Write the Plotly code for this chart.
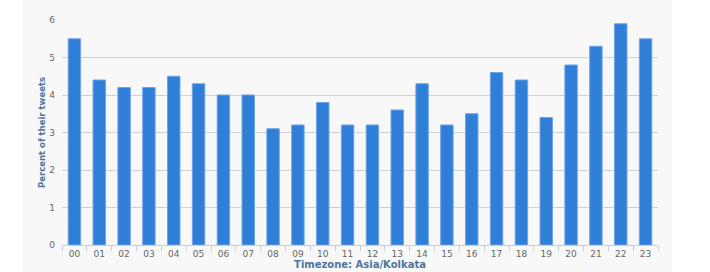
import plotly.graph_objects as go

hours = ["00","01","02","03","04","05","06","07","08","09","10","11",
         "12","13","14","15","16","17","18","19","20","21","22","23"]
percent = [5.5,4.4,4.2,4.2,4.5,4.3,4.0,4.0,3.1,3.2,3.8,3.2,
           3.2,3.6,4.3,3.2,3.5,4.6,4.4,3.4,4.8,5.3,5.9,5.5]

W, H = 710, 272
L, R, T, B = 62, 52, 20, 27
pw, ph = W - L - R, H - T - B

fig = go.Figure(go.Bar(
    x=hours, y=percent,
    marker=dict(color="#2f7ed8", line=dict(color="#6fa3e6", width=1)),
    width=0.5,
))

fig.add_shape(type="rect", xref="paper", yref="paper", layer="below",
              x0=(22 - L) / pw, x1=(672 - L) / pw,
              y0=-B / ph, y1=(H - B) / ph,
              fillcolor="#f8f8f8", line=dict(width=0))

fig.update_layout(
    width=W, height=H,
    margin=dict(l=L, r=R, t=T, b=B),
    paper_bgcolor="white",
    plot_bgcolor="rgba(0,0,0,0)",
    font=dict(family="DejaVu Sans", size=9, color="#666666"),
    showlegend=False,
    bargap=0.5,
)
fig.update_xaxes(
    type="category", automargin=False,
    showgrid=False,
    showline=True, linecolor="#c0d0e0", linewidth=1,
    ticks="outside", ticklen=5, tickcolor="#c0d0e0", tickson="boundaries",
    tickfont=dict(size=9, color="#666666"),
    title=dict(text="Timezone: Asia/Kolkata", standoff=2,
               font=dict(size=10, color="#4d759e", family="DejaVu Sans", weight="bold")),
)
fig.update_yaxes(
    range=[0, 6], dtick=1, automargin=False,
    showgrid=True, gridcolor="#d0d0d0", gridwidth=1,
    zeroline=False, showline=False,
    ticks="", ticklabelstandoff=6,
    tickfont=dict(size=9, color="#666666"),
    title=dict(text="Percent of their tweets", standoff=2,
               font=dict(size=8.5, color="#4d759e", family="DejaVu Sans", weight="bold")),
)

fig.write_html("out.html")
